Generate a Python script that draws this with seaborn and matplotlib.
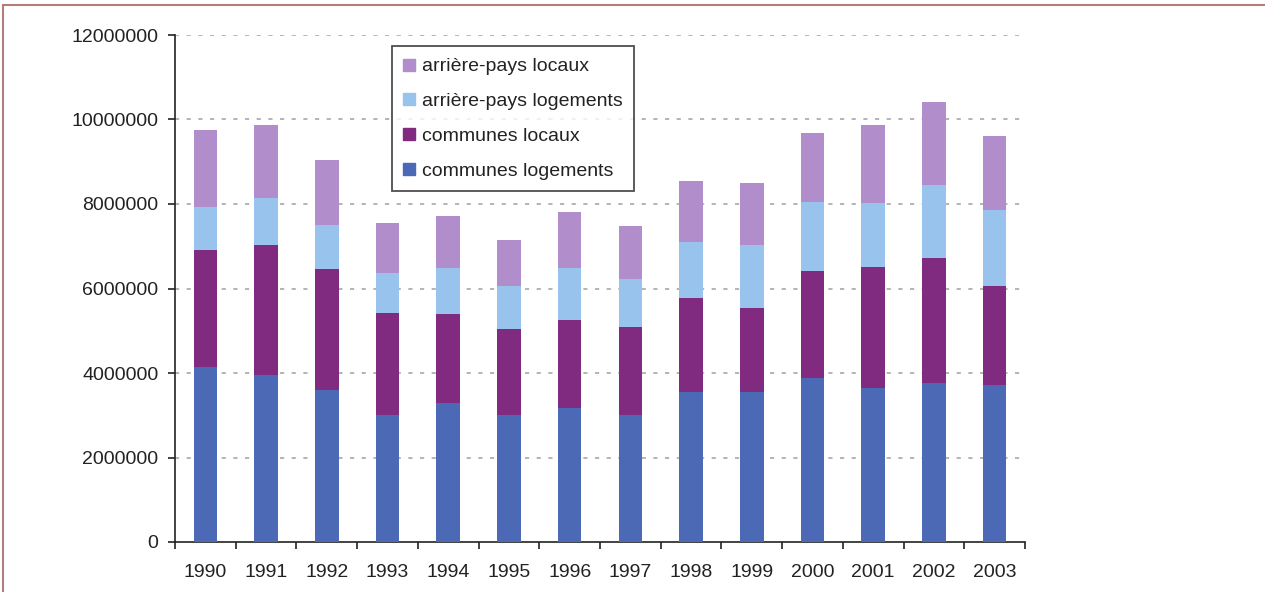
import numpy as np
import pandas as pd
import matplotlib
matplotlib.use("Agg")
import matplotlib.pyplot as plt
from matplotlib.lines import Line2D
import seaborn as sns

# Annual totals, stacked by component
years = ["1990", "1991", "1992", "1993", "1994", "1995", "1996",
         "1997", "1998", "1999", "2000", "2001", "2002", "2003"]
communes_logements = [4150000, 3950000, 3600000, 3000000, 3280000, 3000000, 3160000,
                      3000000, 3560000, 3560000, 3890000, 3640000, 3770000, 3710000]
communes_locaux = [2760000, 3080000, 2860000, 2430000, 2120000, 2030000, 2090000,
                   2080000, 2210000, 1970000, 2520000, 2880000, 2960000, 2360000]
arriere_pays_logements = [1030000, 1110000, 1040000, 930000, 1080000, 1030000, 1230000,
                          1140000, 1340000, 1500000, 1640000, 1510000, 1720000, 1790000]
arriere_pays_locaux = [1810000, 1730000, 1540000, 1180000, 1240000, 1090000, 1340000,
                       1260000, 1440000, 1470000, 1620000, 1840000, 1970000, 1750000]

series_names = ["communes logements", "communes locaux",
                "arrière-pays logements", "arrière-pays locaux"]
series_values = [communes_logements, communes_locaux,
                 arriere_pays_logements, arriere_pays_locaux]
series_colors = ["#4b69b5", "#802a80", "#97c3ec", "#b18dcb"]
y_ticks = [0, 2000000, 4000000, 6000000, 8000000, 10000000, 12000000]

sns.set_style("white")
plt.rcParams["font.family"] = ["Liberation Sans", "DejaVu Sans"]
text_color = "#222222"

fig = plt.figure(figsize=(12.65, 5.92), dpi=100)
ax = fig.add_axes([175 / 1265, 50 / 592, 850 / 1265, 507 / 592])

df = pd.DataFrame({"year": years})
bottom = np.zeros(len(years))
for name, vals, col in zip(series_names, series_values, series_colors):
    df[name] = vals
    sns.barplot(data=df, x="year", y=name, color=col, bottom=bottom,
                width=0.39, ax=ax, saturation=1, linewidth=0, zorder=3)
    bottom = bottom + np.array(vals)

ax.set_xlim(-0.5, len(years) - 0.5)
ax.set_ylim(0, 12000000)
ax.set_yticks(y_ticks)
ax.set_yticklabels([str(v) for v in y_ticks])
ax.set_xlabel("")
ax.set_ylabel("")

# dotted horizontal grid
for v in y_ticks[1:]:
    ax.axhline(v, color="#a8a8a8", lw=1.2, ls=(0, (2.5, 4.5)), zorder=1)

for s in ["top", "right"]:
    ax.spines[s].set_visible(False)
for s in ["left", "bottom"]:
    ax.spines[s].set_color("#222222")
    ax.spines[s].set_linewidth(1.2)

# category ticks sit between the bars
ax.set_xticks(np.arange(-0.5, len(years)), minor=True)
ax.tick_params(axis="x", which="minor", direction="out", length=5, width=1.2,
               color="#222222", bottom=True)
ax.tick_params(axis="x", which="major", length=0, pad=16, labelsize=14,
               labelcolor=text_color)
ax.tick_params(axis="y", which="major", direction="out", length=5, width=1.2,
               color="#222222", left=True, pad=7, labelsize=14,
               labelcolor=text_color)

handles = [Line2D([], [], marker="s", ls="none", markersize=9,
                  markerfacecolor=c, markeredgecolor=c)
           for c in series_colors]
leg = ax.legend(handles[::-1], series_names[::-1], loc="upper left",
                bbox_to_anchor=(0.255, 0.978), borderaxespad=0,
                fontsize=14, frameon=True, fancybox=False,
                labelspacing=0.88, handlelength=0.6, handletextpad=0.35,
                borderpad=0.6, labelcolor=text_color)
leg.get_frame().set_edgecolor("#222222")
leg.get_frame().set_linewidth(1.3)
leg.set_zorder(5)

# outer frame lines
fig.add_artist(Line2D([3 / 1265, 1.0], [1 - 5 / 592, 1 - 5 / 592],
                      color="#b47b7b", lw=1.5, transform=fig.transFigure))
fig.add_artist(Line2D([3 / 1265, 3 / 1265], [0, 1 - 5 / 592],
                      color="#b47b7b", lw=1.5, transform=fig.transFigure))

fig.savefig("out.png", dpi=100)
